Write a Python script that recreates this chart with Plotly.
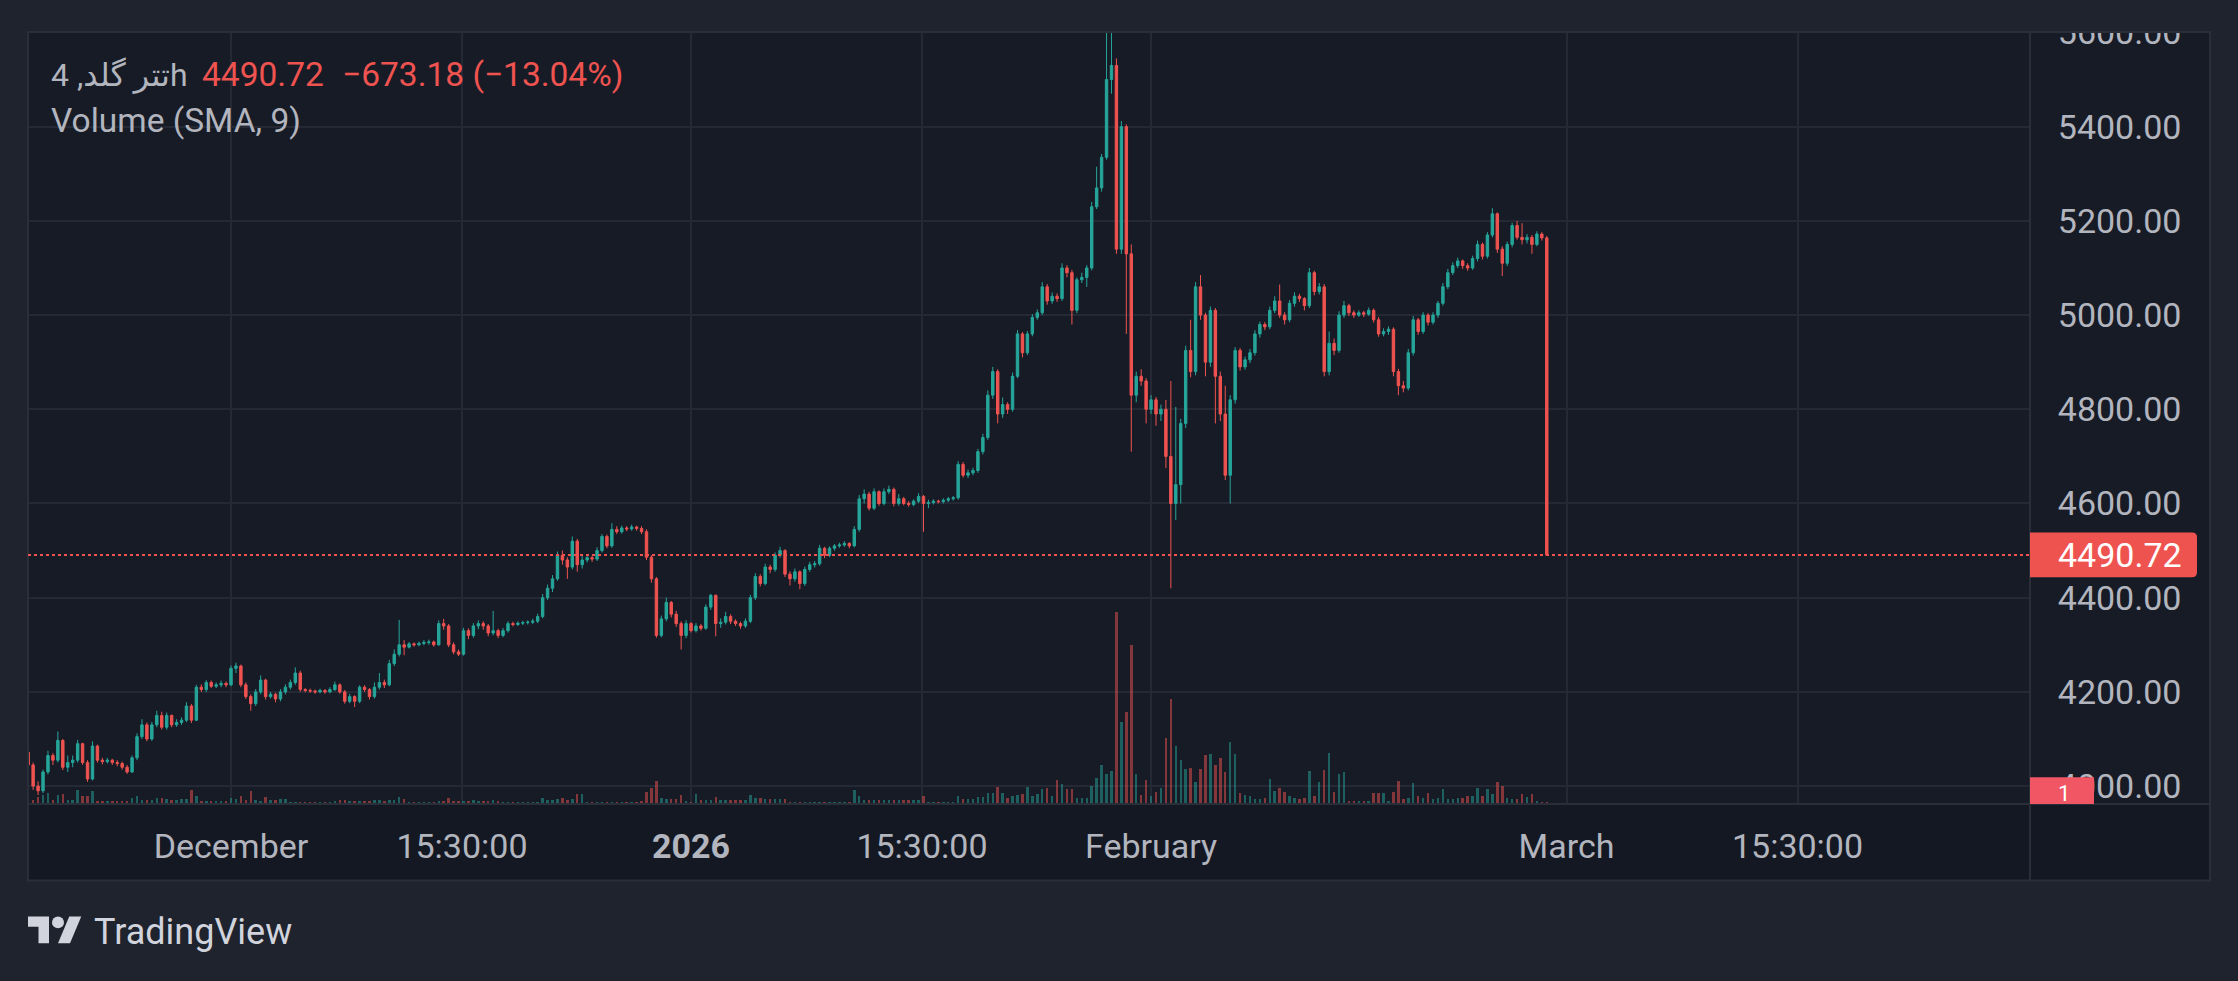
import pandas as pd
import plotly.graph_objects as go

# XAUT (تتر گلد) 8h candles, Nov 17 2025 -> Feb 27 2026
start = "2025-11-17 08:00"
first_open = 4072

close = [
    4045, 4000, 3990, 4030, 4065, 4055, 4097, 4040, 4050, 4055,
    4090, 4050, 4015, 4085, 4055, 4052, 4055, 4050, 4048, 4040,
    4030, 4060, 4105, 4130, 4100, 4130, 4150, 4125, 4150, 4130,
    4135, 4140, 4170, 4140, 4210, 4205, 4220, 4212, 4215, 4218,
    4215, 4250, 4255, 4215, 4190, 4175, 4200, 4225, 4190, 4195,
    4185, 4200, 4210, 4220, 4240, 4205, 4203, 4202, 4200, 4203,
    4200, 4205, 4215, 4200, 4180, 4190, 4180, 4210, 4205, 4190,
    4210, 4220, 4215, 4260, 4280, 4300, 4295, 4302, 4300, 4303,
    4305, 4306, 4300, 4345, 4340, 4300, 4285, 4280, 4330, 4320,
    4340, 4345, 4340, 4325, 4330, 4320, 4330, 4345, 4343, 4346,
    4347, 4348, 4350, 4360, 4400, 4420, 4440, 4490, 4480, 4465,
    4520, 4470, 4480, 4485, 4482, 4500, 4530, 4510, 4545, 4540,
    4548, 4546, 4550, 4547, 4540, 4486, 4440, 4320, 4355, 4390,
    4365, 4345, 4320, 4345, 4330, 4340, 4335, 4380, 4405, 4345,
    4348, 4360, 4350, 4345, 4340, 4350, 4400, 4445, 4430, 4465,
    4460, 4490, 4500, 4450, 4440, 4455, 4430, 4460, 4470, 4472,
    4505, 4490, 4505, 4510, 4512, 4515, 4510, 4545, 4610, 4620,
    4590, 4625, 4600, 4625, 4630, 4600, 4610, 4600, 4598, 4605,
    4615, 4600, 4602, 4605, 4604, 4607, 4610, 4612, 4683, 4660,
    4665, 4670, 4710, 4740, 4830, 4880, 4790, 4810, 4800, 4870,
    4960, 4920, 4960, 4995, 5005, 5060, 5030, 5040, 5035, 5100,
    5090, 5010, 5075, 5080, 5100, 5230, 5270, 5335, 5500, 5530,
    5140, 5400, 5130, 4830, 4870, 4860, 4800, 4820, 4790, 4800,
    4700, 4600, 4640, 4770, 4925, 4880, 5060, 5000, 4900, 5010,
    4870, 4790, 4660, 4820, 4925, 4890, 4905, 4920, 4960, 4980,
    4975, 5010, 5030, 5000, 4990, 5025, 5040, 5035, 5020, 5090,
    5050, 5060, 4880, 4940, 4925, 5000, 5020, 5005, 5000, 5005,
    5002, 5010, 4990, 4960, 4965, 4970, 4880, 4850, 4845, 4920,
    4990, 4965, 5000, 4985, 5000, 5025, 5060, 5090, 5105, 5115,
    5105, 5100, 5120, 5150, 5125, 5170, 5215, 5140, 5110, 5150,
    5190, 5165, 5160, 5165, 5150, 5172, 5163.90, 4490.72,
]

high = [
    4080, 4050, 4010, 4035, 4075, 4070, 4116, 4100, 4065, 4065,
    4098, 4092, 4055, 4095, 4088, 4060, 4060, 4058, 4055, 4052,
    4045, 4065, 4112, 4142, 4135, 4136, 4160, 4158, 4156, 4152,
    4142, 4146, 4178, 4174, 4215, 4216, 4225, 4224, 4220, 4224,
    4222, 4256, 4262, 4258, 4220, 4195, 4206, 4235, 4228, 4200,
    4198, 4206, 4216, 4226, 4252, 4245, 4208, 4207, 4205, 4207,
    4206, 4210, 4222, 4218, 4204, 4196, 4193, 4214, 4214, 4208,
    4220, 4240, 4226, 4268, 4290, 4353, 4310, 4306, 4305, 4307,
    4310, 4311, 4309, 4352, 4355, 4344, 4305, 4290, 4336, 4335,
    4346, 4352, 4350, 4344, 4372, 4334, 4336, 4350, 4349, 4350,
    4351, 4352, 4355, 4366, 4408, 4428, 4448, 4498, 4500, 4486,
    4530, 4525, 4490, 4490, 4489, 4507, 4535, 4534, 4558, 4552,
    4553, 4552, 4555, 4553, 4552, 4545, 4490, 4444, 4362, 4400,
    4393, 4372, 4350, 4352, 4348, 4346, 4344, 4386, 4408, 4407,
    4356, 4370, 4365, 4354, 4349, 4356, 4406, 4452, 4450, 4472,
    4470, 4496, 4508, 4503, 4456, 4462, 4458, 4466, 4476, 4478,
    4512, 4508, 4509, 4514, 4517, 4520, 4518, 4552, 4618, 4630,
    4625, 4632, 4628, 4632, 4638, 4634, 4620, 4614, 4605, 4609,
    4622, 4618, 4608, 4609, 4608, 4611, 4614, 4616, 4690, 4688,
    4672, 4676, 4716, 4748, 4840, 4890, 4885, 4825, 4815, 4878,
    4968, 4964, 4966, 5002, 5012, 5070, 5066, 5048, 5046, 5110,
    5106, 5096, 5080, 5090, 5106, 5240, 5315, 5342, 5610, 5610,
    5545, 5412, 5405, 5150, 4880, 4885, 4866, 4830, 4826, 4810,
    4820, 4860, 4805, 4780, 4935, 4990, 5070, 5085, 5005, 5018,
    5015, 4880, 4850, 4830, 4932, 4930, 4912, 4928, 4968, 4986,
    4985, 5018, 5040, 5065, 5006, 5032, 5048, 5045, 5038, 5100,
    5094, 5068, 5066, 4965, 4950, 5008, 5030, 5024, 5010, 5010,
    5009, 5016, 5014, 4996, 4972, 4976, 4974, 4886, 4860, 4928,
    4998, 4994, 5006, 5004, 5006, 5030, 5068, 5098, 5112, 5122,
    5118, 5110, 5126, 5158, 5154, 5176, 5227, 5218, 5146, 5156,
    5196, 5200, 5195, 5172, 5170, 5178, 5176, 5168,
]

low = [
    4040, 3992, 3981, 3985, 4025, 4045, 4050, 4034, 4030, 4040,
    4050, 4045, 4009, 4012, 4050, 4046, 4048, 4045, 4042, 4035,
    4026, 4028, 4055, 4100, 4095, 4096, 4125, 4120, 4120, 4125,
    4126, 4130, 4136, 4134, 4138, 4200, 4200, 4208, 4208, 4210,
    4210, 4212, 4240, 4210, 4185, 4160, 4170, 4195, 4184, 4186,
    4178, 4180, 4195, 4205, 4215, 4200, 4199, 4198, 4196, 4197,
    4196, 4197, 4202, 4196, 4175, 4176, 4168, 4176, 4200, 4184,
    4186, 4205, 4208, 4212, 4255, 4275, 4278, 4292, 4296, 4297,
    4299, 4300, 4296, 4298, 4332, 4295, 4280, 4276, 4277, 4312,
    4315, 4333, 4332, 4318, 4320, 4314, 4316, 4326, 4339, 4340,
    4342, 4343, 4344, 4346, 4356, 4395, 4412, 4436, 4470, 4440,
    4460, 4455, 4462, 4475, 4476, 4478, 4496, 4505, 4506, 4535,
    4536, 4541, 4542, 4542, 4535, 4480, 4432, 4315, 4316, 4350,
    4358, 4338, 4290, 4314, 4326, 4326, 4330, 4332, 4374, 4318,
    4336, 4343, 4344, 4340, 4334, 4336, 4346, 4395, 4424, 4426,
    4452, 4455, 4485, 4444, 4426, 4434, 4418, 4425, 4455, 4464,
    4468, 4484, 4486, 4500, 4506, 4508, 4505, 4507, 4540, 4600,
    4585, 4586, 4595, 4596, 4620, 4594, 4595, 4596, 4593, 4594,
    4601, 4540, 4590, 4598, 4600, 4600, 4603, 4606, 4608, 4655,
    4654, 4660, 4665, 4704, 4735, 4822, 4770, 4782, 4790, 4795,
    4866, 4910, 4915, 4955, 4990, 5000, 5022, 5024, 5028, 5030,
    5080, 4980, 5004, 5068, 5060, 5095, 5225, 5262, 5330, 5470,
    5130, 5130, 4960, 4710, 4815, 4850, 4770, 4790, 4765, 4775,
    4675, 4420, 4565, 4600, 4760, 4868, 4872, 4990, 4870, 4890,
    4770, 4775, 4650, 4600, 4812, 4882, 4884, 4898, 4914, 4952,
    4968, 4970, 5004, 4994, 4980, 4985, 5018, 5028, 5010, 5015,
    5042, 5044, 4870, 4872, 4915, 4920, 4994, 4998, 4994, 4996,
    4996, 4998, 4984, 4954, 4955, 4958, 4870, 4830, 4836, 4840,
    4914, 4958, 4960, 4978, 4980, 4994, 5020, 5055, 5085, 5100,
    5098, 5094, 5096, 5114, 5118, 5120, 5165, 5132, 5083, 5104,
    5144, 5160, 5150, 5152, 5130, 5146, 5158, 4490.72,
]

volume = [
    5.5, 2, 3.5, 4.5, 5.5, 2, 4.5, 5, 2, 2,
    7, 4, 4, 6.5, 1.5, 1.5, 1.5, 1.5, 1.5, 1.5,
    1.5, 3, 4, 2, 2, 2, 3, 3, 2.5, 2,
    2, 2.5, 2.5, 7, 4, 1.5, 1.5, 1.5, 1.5, 1.5,
    1.5, 3, 2.5, 4, 2, 6.5, 2, 1.5, 3.5, 2,
    2, 2.5, 2.5, 1, 1, 1, 1, 1, 1, 1,
    1, 1, 1.5, 2, 2, 1.5, 1.5, 1.5, 1.5, 1.5,
    2, 2, 1.5, 2, 2, 3.5, 2.5, 1, 1, 1,
    1, 1, 1, 1.5, 1.5, 3, 1.5, 1.5, 1.5, 1.5,
    2, 1.5, 1.5, 1.5, 2, 1.5, 1, 1, 1, 1,
    1, 1, 1, 1, 3, 2, 2, 2.5, 3, 2,
    2.5, 5, 5, 1, 1, 1, 1, 1, 1, 1,
    1, 1, 1, 1, 1.5, 6, 8, 11.5, 3, 2.5,
    2.5, 2.5, 4.5, 1.5, 1, 5, 2, 2, 2, 3.5,
    2, 2, 2, 2, 2, 2, 4.5, 3, 3, 2.5,
    2.5, 2.5, 2.5, 2.5, 1, 1, 1, 1, 1, 1,
    1, 1, 1, 1, 1, 1, 1, 7, 4, 2,
    2, 2, 2, 2, 2, 2, 2, 2, 2, 2,
    2, 4, 1, 1, 1, 1, 1, 1, 4, 2.5,
    2.5, 2.5, 3.5, 3.5, 5.5, 5.5, 8.5, 5.5, 3, 4,
    4.5, 5, 8.5, 4, 5, 7.5, 8, 4, 12, 10,
    7.5, 7.5, 3, 3, 3, 9, 13, 19.5, 15, 16.5,
    96, 41, 46, 79.5, 15, 4.5, 12, 4, 6, 8,
    33, 52.5, 29, 22, 17.5, 18, 11, 17.5, 24.5, 25,
    19.5, 23, 16, 31, 25, 5.5, 4.5, 4, 2.5, 2.5,
    3, 12.5, 6.5, 8, 6, 4, 3, 2.5, 3, 16.5,
    4, 11, 17, 25.5, 6, 15, 16, 1.5, 1.5, 1.5,
    1.5, 1.5, 5.5, 5.5, 5.5, 1.5, 6, 11.5, 2.5, 3,
    10.5, 4, 3, 5.5, 2.5, 3, 7.5, 2.5, 2.5, 3,
    3, 4, 4, 8, 4, 7.5, 5, 11, 9, 3,
    2.5, 2.5, 5, 3.5, 5, 1.5, 1, 1,
]

price_ticks = [4000, 4200, 4400, 4600, 4800, 5000, 5200, 5400, 5600]
time_ticks = ["2025-12-01", "2025-12-16 13:30", "2026-01-01", "2026-01-16 13:30",
              "2026-02-01", "2026-03-01", "2026-03-16 13:30"]
time_labels = ["December", "15:30:00", "<b>2026</b>", "15:30:00",
               "February", "March", "15:30:00"]

t = pd.date_range(start, periods=len(close), freq="8h")
opens = [first_open] + close[:-1]

# colours
BG = "#1f232e"
PANE = "#171b26"
AXIS_BG = "#141823"
BORDER = "#2a2e39"
GRID = "#252935"
TXT = "#b2b5be"
UP = "#26a69a"
DOWN = "#ef5350"

# pixel -> paper helpers (plot area 28..2030 x 28..804)
L, R, T, B = 28, 2030, 28, 804
def px(x):
    return (x - L) / (R - L)
def py(y):
    return (B - y) / (B - T)

vol_colors = ["rgba(38,166,154,0.5)" if c >= o else "rgba(239,83,80,0.5)"
              for o, c in zip(opens, close)]

fig = go.Figure()
fig.add_trace(go.Bar(x=t, y=volume, marker_color=vol_colors, marker_line_width=0,
                     width=4 * 3600 * 1000, yaxis="y", hoverinfo="skip"))
fig.add_trace(go.Candlestick(
    x=t, open=opens, high=high, low=low, close=close, yaxis="y2",
    increasing=dict(line=dict(color=UP, width=1), fillcolor=UP),
    decreasing=dict(line=dict(color=DOWN, width=1), fillcolor=DOWN),
    whiskerwidth=0, hoverinfo="skip"))

last = close[-1]
chg = close[-1] - close[-2]
pct = chg / close[-2] * 100

shapes = [
    # time axis strip and price column
    dict(type="rect", xref="paper", yref="paper", x0=0, x1=1, y0=py(881), y1=0,
         fillcolor=AXIS_BG, line_width=0, layer="below"),
    dict(type="rect", xref="paper", yref="paper", x0=1, x1=px(2210), y0=0, y1=1,
         fillcolor=PANE, line_width=0, layer="below"),
    dict(type="rect", xref="paper", yref="paper", x0=1, x1=px(2210), y0=py(881), y1=0,
         fillcolor=AXIS_BG, line_width=0, layer="below"),
    # clip top of price labels
    dict(type="rect", xref="paper", yref="paper", x0=1, x1=px(2214), y0=1, y1=py(0),
         fillcolor=BG, line_width=0, layer="above"),
    # borders
    dict(type="rect", xref="paper", yref="paper", x0=0, x1=px(2210), y0=py(881), y1=1,
         line=dict(color=BORDER, width=2), layer="above"),
    dict(type="line", xref="paper", yref="paper", x0=1, x1=1, y0=py(881), y1=1,
         line=dict(color=BORDER, width=2), layer="above"),
    dict(type="line", xref="paper", yref="paper", x0=0, x1=px(2210), y0=0, y1=0,
         line=dict(color=BORDER, width=2), layer="above"),
    # last price line
    dict(type="line", xref="paper", yref="y2", x0=0, x1=1, y0=last, y1=last,
         line=dict(color=DOWN, width=2, dash="dot")),
    # last price tag
    dict(type="path", xref="paper", yref="paper",
         path=(f"M {px(2030)} {py(531)} L {px(2192)} {py(531)} "
               f"Q {px(2197)} {py(531)} {px(2197)} {py(536)} "
               f"L {px(2197)} {py(571)} Q {px(2197)} {py(576)} {px(2192)} {py(576)} "
               f"L {px(2030)} {py(576)} Z"),
         fillcolor=DOWN, line_width=0, layer="above"),
    # volume tag
    dict(type="rect", xref="paper", yref="paper", x0=1, x1=px(2094), y0=0, y1=py(777),
         fillcolor="#f05663", line_width=0, layer="above"),
]

# TradingView logo, 36x28 glyph scaled 1.5 at (28, 911)
def lp(a, b):
    return f"{px(28 + 1.5 * a)} {py(911 + 1.5 * b)}"
shapes += [
    dict(type="path", xref="paper", yref="paper",
         path=f"M {lp(0,4)} L {lp(14,4)} L {lp(14,22)} L {lp(7,22)} L {lp(7,11)} L {lp(0,11)} Z",
         fillcolor="#d1d4dc", line_width=0),
    dict(type="path", xref="paper", yref="paper",
         path=f"M {lp(28,22)} L {lp(20,22)} L {lp(27.5,4)} L {lp(35.5,4)} Z",
         fillcolor="#d1d4dc", line_width=0),
    dict(type="circle", xref="paper", yref="paper",
         x0=px(28 + 1.5 * 16), x1=px(28 + 1.5 * 24), y0=py(911 + 1.5 * 12), y1=py(911 + 1.5 * 4),
         fillcolor="#d1d4dc", line_width=0),
]

FONT = "Roboto, 'Noto Sans', 'DejaVu Sans', sans-serif"
ann = [
    dict(x=px(49), y=py(71), text="تتر گلد, 4h", font=dict(size=32, color=TXT)),
    dict(x=px(200), y=py(71), text=f"{last:.2f}", font=dict(size=33.5, color=DOWN)),
    dict(x=px(340), y=py(71), text=f"{chg:+.2f} ({pct:+.2f}%)".replace("-", "\u2212"),
         font=dict(size=33.5, color=DOWN)),
    dict(x=px(49), y=py(117), text="Volume (SMA, 9)", font=dict(size=33.5, color=TXT)),
    dict(x=px(2056), y=py(554), text=f"{last:.2f}", font=dict(size=34, color="#ffffff")),
    dict(x=px(2056), y=py(793), text=f"{volume[-1]:.0f}", font=dict(size=22, color="#ffffff")),
    dict(x=px(92), y=py(933), text="TradingView", font=dict(size=36, color="#d1d4dc")),
]
for a in ann:
    a.update(xref="paper", yref="paper", xanchor="left", yanchor="middle",
             showarrow=False)
    a["font"]["family"] = FONT

fig.update_layout(
    width=2238, height=981,
    margin=dict(l=28, r=208, t=28, b=177),
    paper_bgcolor=BG, plot_bgcolor=PANE,
    font=dict(family=FONT, color=TXT, size=32),
    showlegend=False, hovermode=False, bargap=0,
    shapes=shapes, annotations=ann,
    xaxis=dict(type="date", range=["2025-11-17 07:42", "2026-04-01 05:30"],
               tickvals=time_ticks, ticktext=time_labels,
               showgrid=True, gridcolor=GRID, gridwidth=2,
               ticks="outside", ticklen=12, tickcolor="rgba(0,0,0,0)",
               tickfont=dict(size=34, color=TXT),
               rangeslider=dict(visible=False), zeroline=False, showline=False),
    yaxis=dict(range=[0, max(volume) / 0.249], visible=False, fixedrange=True),
    yaxis2=dict(overlaying="y", side="right", range=[3962, 5601],
                tickvals=price_ticks, ticktext=[f"{v:.2f}" for v in price_ticks],
                showgrid=True, gridcolor=GRID, gridwidth=2,
                ticks="outside", ticklen=20, tickcolor="rgba(0,0,0,0)",
                tickfont=dict(size=34, color=TXT), zeroline=False, showline=False),
)

# the page's default body margin would shift the chart by 8px
fig.write_html("out.html", config={"displayModeBar": False},
               post_script="document.body.style.margin='0';")
